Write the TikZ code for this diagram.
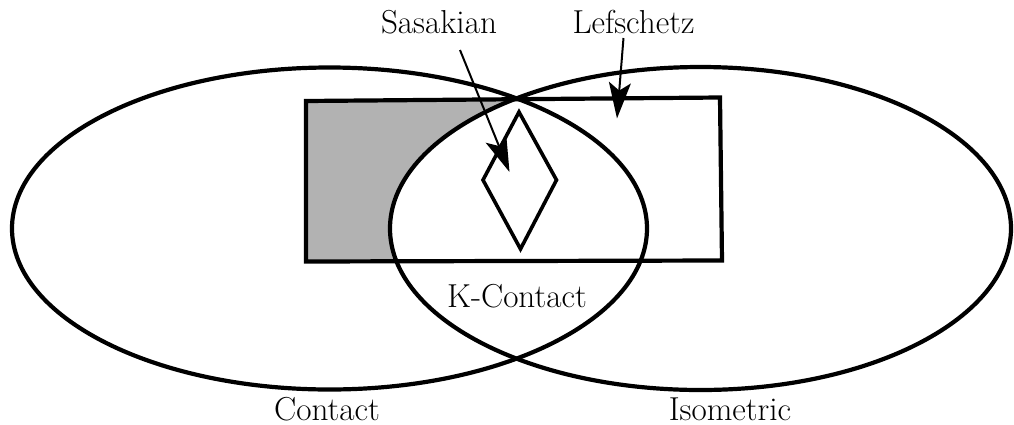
\documentclass[tikz,border=0pt]{standalone}
\usetikzlibrary{arrows.meta}
\begin{document}
\begin{tikzpicture}[x=0.5pt,y=-0.5pt,
  thick line/.style={line width=2.1pt},
  arr/.style={line width=1pt,-{Stealth[length=18pt,width=11pt,inset=4pt]}},
  lbl/.style={anchor=base,inner sep=0pt,font=\fontsize{16.6}{20}\selectfont},
  shade/.style={fill=black!30}]
\useasboundingbox (0,0) rectangle (1014,424);
% coordinates
\coordinate (cL) at (329.5,228.5);
\coordinate (cR) at (700.5,228.5);
\coordinate (r1) at (306,101);
\coordinate (r2) at (720,97.5);
\coordinate (r3) at (722,260.5);
\coordinate (r4) at (306,261.5);
\coordinate (d1) at (519,112);
\coordinate (d2) at (556.5,180);
\coordinate (d3) at (520.5,249);
\coordinate (d4) at (483,180);
% shaded part of rectangle outside right ellipse
\begin{scope}
  \clip (r1) -- (r2) -- (r3) -- (r4) -- cycle;
  \fill[shade, even odd rule] (r1) -- (r2) -- (r3) -- (r4) -- cycle
     (cR) ellipse [x radius=310.5, y radius=161.5];
\end{scope}
% shapes
\draw[thick line] (r1) -- (r2) -- (r3) -- (r4) -- cycle;
\draw[thick line] (cL) ellipse [x radius=317.5, y radius=161];
\draw[thick line] (cR) ellipse [x radius=310.5, y radius=161.5];
\draw[line width=1.8pt, line join=miter] (d1) -- (d2) -- (d3) -- (d4) -- cycle;
% labels
\node[lbl] (sas) at (439,33) {Sasakian};
\node[lbl] (lef) at (633.5,33) {Lefschetz};
\node[lbl] (kc) at (517,307) {K-Contact};
\node[lbl] (con) at (327,420) {Contact};
\node[lbl] (iso) at (730,420) {Isometric};
% arrows
\coordinate (sasA) at (460,50);
\coordinate (sasB) at (509.5,172);
\coordinate (lefA) at (623.5,38);
\coordinate (lefB) at (617,118.5);
\draw[arr] (sasA) -- (sasB);
\draw[arr] (lefA) -- (lefB);
\end{tikzpicture}
\end{document}
